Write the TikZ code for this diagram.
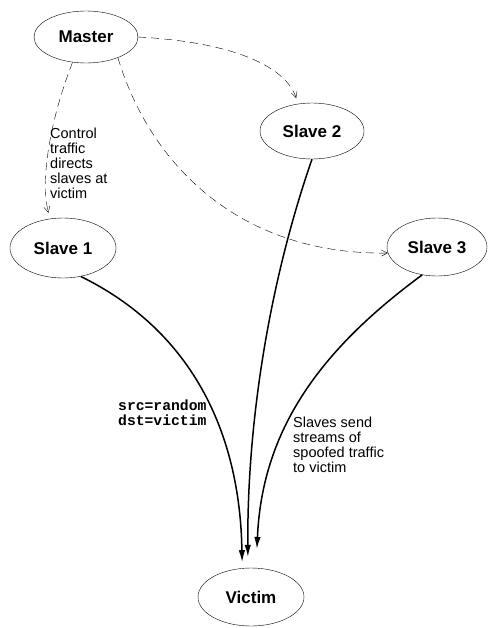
\documentclass[tikz,border=0pt]{standalone}
\usepackage{fontspec}
\setmainfont{Liberation Sans}
\setmonofont{Liberation Mono}
\usetikzlibrary{shapes.geometric,arrows.meta}

\begin{document}
\begin{tikzpicture}[x=1pt,y=-1pt,
  host/.style={ellipse,draw,thin,inner sep=0pt,font=\fontsize{17}{18}\selectfont\bfseries},
  ctrl/.style={thin,dash pattern=on 8pt off 5pt,-{Straight Barb[length=6pt,width=6pt]}},
  flood/.style={line width=1.5pt,-{Latex[length=12pt,width=6.5pt]}},
  note/.style={inner sep=0pt,align=left,anchor=north west,font=\fontsize{14.5}{15}\selectfont}]
  \useasboundingbox (0,0) rectangle (487,628);
  % noduri
  \node[host,minimum width=104pt,minimum height=52pt] (master) at (86,37)  {Master};
  \node[host,minimum width=106pt,minimum height=60pt] (s1)     at (63,248) {Slave 1};
  \node[host,minimum width=104pt,minimum height=56pt] (s2)     at (312,131) {Slave 2};
  \node[host,minimum width=100pt,minimum height=58pt] (s3)     at (437,247) {Slave 3};
  \node[host,minimum width=106pt,minimum height=58pt] (victim) at (251,597) {Victim};

  % trafic de control (linii întrerupte)
  \draw[ctrl,shorten >=6pt] (master.-118) .. controls (50,120) and (40,180) .. (s1.114);
  \draw[ctrl,shorten >=6pt] (master.east) .. controls (230,42) and (285,65) .. (s2.117);
  \draw[ctrl] (master.-33) .. controls (150,165) and (240,255) .. (s3.187);

  % trafic falsificat (linii groase)
  \draw[flood,shorten >=6pt]  (s1.-58) .. controls (190,330) and (240,430) .. (victim.107);
  \draw[flood,shorten >=11pt] (s2.south) .. controls (270,280) and (247,420) .. (victim.96);
  \draw[flood,shorten >=19pt] (s3.-118) .. controls (320,350) and (262,430) .. (victim.80);

  % etichete
  \node[note] (ctrltext) at (50,128) {Control\\traffic\\directs\\slaves at\\victim};
  \node[note,font=\fontsize{14.7}{14.3}\selectfont\ttfamily\bfseries] (hdr) at (118,400) {src=random\\dst=victim};
  \node[note] (floodtext) at (293,417) {Slaves send\\streams of\\spoofed traffic\\to victim};
\end{tikzpicture}
\end{document}
